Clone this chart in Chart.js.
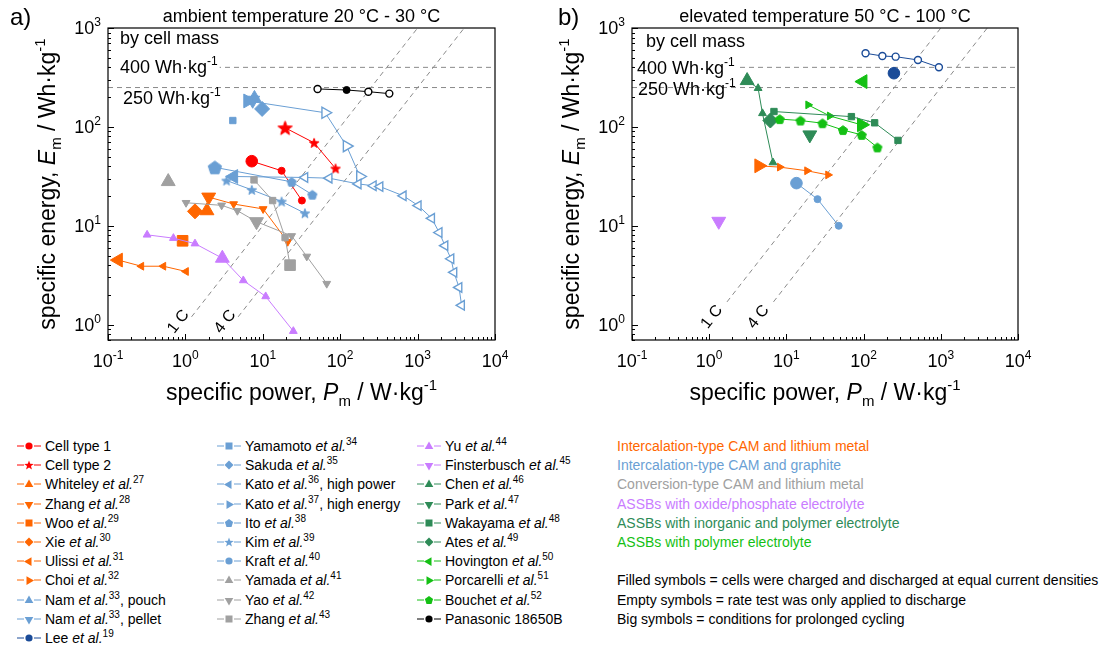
<!DOCTYPE html>
<html>
<head>
<meta charset="utf-8">
<script src="https://cdn.jsdelivr.net/npm/chart.js@4.4.1/dist/chart.umd.min.js"></script>
<style>
  body { margin: 0; width: 1114px; height: 648px; background: #fff; position: relative; overflow: hidden;
         font-family: "Liberation Sans", Arial, sans-serif; }
  canvas { position: absolute; top: 0; }
  #chartA { left: 0; }
  #chartB { left: 530px; }
  .col { position: absolute; top: 437px; font-size: 14px; color: #000; }
  .col div { height: 19.2px; line-height: 19.2px; white-space: nowrap; }
  .col svg { vertical-align: -2px; margin-right: 2px; }
  .col sup { font-size: 10px; position: relative; top: -6px; vertical-align: baseline; line-height: 0; }
</style>
</head>
<body>
<canvas id="chartA" width="530" height="420"></canvas>
<canvas id="chartB" width="530" height="420"></canvas>
<div class="col" id="leg1" style="left:16px"></div>
<div class="col" id="leg2" style="left:216px"></div>
<div class="col" id="leg3" style="left:416px"></div>
<div class="col" id="leg4" style="left:617px"></div>
<script>
// data points are [specific power W/kg, specific energy Wh/kg]

// a) ambient temperature 20-30 °C
const cellType1 = [[7.2, 45], [17.5, 36], [32, 18]];
const cellType2 = [[19.4, 98], [46, 69], [87, 38]];
const whiteley = [[1.9, 14.2]];
const zhang28 = [[2.0, 19.5], [4.2, 16.6], [10.1, 14.8], [21, 6.9]];
const woo = [[0.92, 7.05]];
const xie = [[1.33, 14.0]];
const ulissi = [[0.136, 4.5], [0.27, 3.9], [0.52, 3.9], [1.02, 3.45]];
const namPouch = [[7.8, 194]];
const namPellet = [[7.4, 186]];
const yamamoto = [[4.1, 116]];
const sakuda = [[9.8, 152]];
const katoHP = [[4.2, 31.5], [35, 30.8], [72, 30.3], [171, 26.5], [268, 25.4], [327, 24.9], [653, 20.1],
  [1020, 16], [1520, 11.9], [1900, 8.55], [2260, 6.3], [2700, 4.64], [2950, 3.38], [3430, 2.38], [3700, 1.57]];
const katoHE = [[6.4, 183], [64, 139], [121, 64], [180, 31.5]];
const ito = [[2.4, 39], [23.6, 27.8], [43.7, 20.6]];
const kim = [[3.4, 28.7], [7.2, 23.1], [17.5, 17.6], [35, 13.4]];
const yamada = [[0.6, 28]];
const yao = [[1.02, 17.1], [2.94, 16.1], [4.7, 14.2], [8.3, 11], [23.6, 7.9], [37, 4.9], [67, 2.6]];
const zhang43 = [[7.7, 29.1], [13.4, 18], [19.4, 7.6], [22.5, 4.0]];
const yu = [[0.32, 8.1], [0.7, 7.5], [1.33, 6.6], [3.0, 4.7], [5.6, 2.8], [10.9, 1.93], [24.8, 0.86]];
const panasonic = [[51, 242], [121, 236], [231, 227], [431, 217]];

// b) elevated temperature 50-100 °C
const leeCycling = [[247, 349]];
const leeRate = [[106, 555], [175, 521], [260, 513], [506, 475], [945, 401]];
const hovington = [[98, 287]];
const chen = [[3.1, 294], [4.3, 246], [4.9, 137], [6.7, 43.6]];
const ates = [[6.2, 116]];
const wakayama = [[6.9, 143], [69.5, 127], [139, 110], [279, 73]];
const bouchet = [[8.2, 120], [15.2, 116], [29.3, 109], [54, 93], [94.5, 83], [151, 62]];
const porcarelli = [[19.1, 167], [36.4, 129], [94, 105]];
const park = [[20.1, 83]];
const choi = [[4.4, 40.4], [8.2, 39.2], [18.5, 36], [34.6, 32.7]];
const kraft = [[13.5, 27], [25.3, 18.6], [47.6, 10]];
const finsterbusch = [[1.33, 11.1]];

// axes and guide lines
const powerRange = [0.1, 10000];
const energyRange = [0.7, 1000];
const energyLevels = [400, 250];
const cRates = [1, 4];
const decadesX = [-1, 0, 1, 2, 3, 4];
const decadesY = [0, 1, 2, 3];

const RED = '#ff0000', ORANGE = '#ff6600', BLUE = '#6a9fd4', NAVY = '#1a4b98', GREY = '#a0a0a0',
  VIOLET = '#c97cff', DKGREEN = '#2e8b57', GREEN = '#14c014', BLACK = '#000000';
const FONT = '"Liberation Sans", Arial, sans-serif';

const seriesA = [
  { data: panasonic, color: BLACK, shape: 'circle', open: [0, 2, 3] },
  { data: yu, color: VIOLET, shape: 'up', big: [3] },
  { data: ulissi, color: ORANGE, shape: 'left', big: [0] },
  { data: woo, color: ORANGE, shape: 'square', big: [0] },
  { data: yao, color: GREY, shape: 'down', big: [3] },
  { data: zhang43, color: GREY, shape: 'square', big: [3] },
  { data: yamada, color: GREY, shape: 'up', big: [0] },
  { data: zhang28, color: ORANGE, shape: 'down', big: [0] },
  { data: xie, color: ORANGE, shape: 'diamond', big: [0] },
  { data: whiteley, color: ORANGE, shape: 'up', big: [0] },
  { data: kim, color: BLUE, shape: 'star' },
  { data: ito, color: BLUE, shape: 'pent', big: [0] },
  { data: katoHP, color: BLUE, shape: 'left', big: [0], openFrom: 1, openR: 5.5 },
  { data: katoHE, color: BLUE, shape: 'right', big: [0], openFrom: 1, openR: 6.5 },
  { data: yamamoto, color: BLUE, shape: 'square' },
  { data: sakuda, color: BLUE, shape: 'diamond', big: [0] },
  { data: namPellet, color: BLUE, shape: 'down', big: [0] },
  { data: namPouch, color: BLUE, shape: 'up', big: [0] },
  { data: cellType1, color: RED, shape: 'circle', big: [0] },
  { data: cellType2, color: RED, shape: 'star', big: [0] }
];

const seriesB = [
  { data: leeRate, color: NAVY, shape: 'circle', openFrom: 0, openR: 3.5 },
  { data: leeCycling, color: NAVY, shape: 'circle', big: [0] },
  { data: hovington, color: GREEN, shape: 'left', big: [0] },
  { data: chen, color: DKGREEN, shape: 'up', big: [0] },
  { data: wakayama, color: DKGREEN, shape: 'square' },
  { data: bouchet, color: GREEN, shape: 'pent' },
  { data: porcarelli, color: GREEN, shape: 'right', big: [2] },
  { data: park, color: DKGREEN, shape: 'down', big: [0] },
  { data: ates, color: DKGREEN, shape: 'diamond', big: [0] },
  { data: choi, color: ORANGE, shape: 'right', big: [0] },
  { data: kraft, color: BLUE, shape: 'circle', big: [0] },
  { data: finsterbusch, color: VIOLET, shape: 'down', big: [0] }
];

const legendCols = [
  [['Cell type 1', RED, 'circle'], ['Cell type 2', RED, 'star'],
   ['Whiteley <i>et al.</i><sup>27</sup>', ORANGE, 'up'], ['Zhang <i>et al.</i><sup>28</sup>', ORANGE, 'down'],
   ['Woo <i>et al.</i><sup>29</sup>', ORANGE, 'square'], ['Xie <i>et al.</i><sup>30</sup>', ORANGE, 'diamond'],
   ['Ulissi <i>et al.</i><sup>31</sup>', ORANGE, 'left'], ['Choi <i>et al.</i><sup>32</sup>', ORANGE, 'right'],
   ['Nam <i>et al.</i><sup>33</sup>, pouch', BLUE, 'up'], ['Nam <i>et al.</i><sup>33</sup>, pellet', BLUE, 'down'],
   ['Lee <i>et al.</i><sup>19</sup>', NAVY, 'circle']],
  [['Yamamoto <i>et al.</i><sup>34</sup>', BLUE, 'square'], ['Sakuda <i>et al.</i><sup>35</sup>', BLUE, 'diamond'],
   ['Kato <i>et al.</i><sup>36</sup>, high power', BLUE, 'left'], ['Kato <i>et al.</i><sup>37</sup>, high energy', BLUE, 'right'],
   ['Ito <i>et al.</i><sup>38</sup>', BLUE, 'pent'], ['Kim <i>et al.</i><sup>39</sup>', BLUE, 'star'],
   ['Kraft <i>et al.</i><sup>40</sup>', BLUE, 'circle'], ['Yamada <i>et al.</i><sup>41</sup>', GREY, 'up'],
   ['Yao <i>et al.</i><sup>42</sup>', GREY, 'down'], ['Zhang <i>et al.</i><sup>43</sup>', GREY, 'square']],
  [['Yu <i>et al.</i><sup>44</sup>', VIOLET, 'up'], ['Finsterbusch <i>et al.</i><sup>45</sup>', VIOLET, 'down'],
   ['Chen <i>et al.</i><sup>46</sup>', DKGREEN, 'up'], ['Park <i>et al.</i><sup>47</sup>', DKGREEN, 'down'],
   ['Wakayama <i>et al.</i><sup>48</sup>', DKGREEN, 'square'], ['Ates <i>et al.</i><sup>49</sup>', DKGREEN, 'diamond'],
   ['Hovington <i>et al.</i><sup>50</sup>', GREEN, 'left'], ['Porcarelli <i>et al.</i><sup>51</sup>', GREEN, 'right'],
   ['Bouchet <i>et al.</i><sup>52</sup>', GREEN, 'pent'], ['Panasonic 18650B', BLACK, 'circle']]
];

const categoryNotes = [
  ['Intercalation-type CAM and lithium metal', ORANGE],
  ['Intercalation-type CAM and graphite', BLUE],
  ['Conversion-type CAM and lithium metal', GREY],
  ['ASSBs with oxide/phosphate electrolyte', VIOLET],
  ['ASSBs with inorganic and polymer electrolyte', DKGREEN],
  ['ASSBs with polymer electrolyte', GREEN],
  ['', BLACK],
  ['Filled symbols = cells were charged and discharged at equal current densities', BLACK],
  ['Empty symbols = rate test was only applied to discharge', BLACK],
  ['Big symbols = conditions for prolonged cycling', BLACK]
];

// ---------- markers ----------
const SIZES = { circle: [3.5, 5.8], star: [5, 7.5], up: [4.5, 8], down: [4.5, 8], left: [4.5, 8], right: [4.5, 8],
  square: [4.5, 7.5], diamond: [4.5, 7.5], pent: [4.8, 7] };
const ROT = { up: 0, down: 180, left: 270, right: 90 };

function polyPts(shape, R) {
  const pts = [];
  if (shape === 'star') {
    for (let i = 0; i < 10; i++) {
      const r = i % 2 ? R * 0.42 : R, a = -Math.PI / 2 + i * Math.PI / 5;
      pts.push([r * Math.cos(a), r * Math.sin(a)]);
    }
  } else {
    for (let i = 0; i < 5; i++) {
      const a = -Math.PI / 2 + i * 2 * Math.PI / 5;
      pts.push([R * Math.cos(a), R * Math.sin(a)]);
    }
  }
  return pts;
}

const imgCache = {};
function shapeImage(shape, R, fill, stroke) {
  const key = shape + R + fill + stroke;
  if (imgCache[key]) return imgCache[key];
  const s = Math.ceil(2 * R + 4);
  const c = document.createElement('canvas');
  c.width = c.height = s;
  const g = c.getContext('2d');
  g.translate(s / 2, s / 2 + R * 0.1);
  g.beginPath();
  polyPts(shape, R).forEach(([x, y], i) => i ? g.lineTo(x, y) : g.moveTo(x, y));
  g.closePath();
  g.fillStyle = fill; g.fill();
  g.strokeStyle = stroke; g.lineWidth = 1; g.stroke();
  return (imgCache[key] = c);
}

function toDataset(s) {
  const big = s.big || [];
  const isOpen = i => (s.open || []).includes(i) || (s.openFrom !== undefined && i >= s.openFrom);
  const rad = i => isOpen(i) ? s.openR || SIZES[s.shape][0] : SIZES[s.shape][big.includes(i) ? 1 : 0];
  const fill = i => isOpen(i) ? '#ffffff' : s.color;
  const style = i => {
    if (s.shape === 'star' || s.shape === 'pent') return shapeImage(s.shape, rad(i), fill(i), s.color);
    return { circle: 'circle', square: 'rect', diamond: 'rectRot' }[s.shape] || 'triangle';
  };
  const idx = s.data.map((_, i) => i);
  return {
    data: s.data.map(([x, y]) => ({ x, y })),
    showLine: true,
    borderColor: s.color,
    borderWidth: 1,
    pointStyle: idx.map(style),
    pointRotation: ROT[s.shape] || 0,
    pointRadius: idx.map(rad),
    pointBackgroundColor: idx.map(fill),
    pointBorderColor: s.color,
    pointBorderWidth: idx.map(i => isOpen(i) ? 1.4 : 1),
    order: 0
  };
}

function guideDatasets(cStart) {
  const base = { showLine: true, borderColor: '#8a8a8a', borderWidth: 1, borderDash: [5, 4], pointRadius: 0, order: 10 };
  const out = energyLevels.map(e => Object.assign({ data: powerRange.map(p => ({ x: p, y: e })) }, base));
  cRates.forEach(c => out.push(Object.assign({
    data: [{ x: c * cStart, y: cStart }, { x: c * energyRange[1], y: energyRange[1] }]
  }, base)));
  return out;
}

// ---------- text helpers ----------
function runFont(k, size) {
  const small = k === 'sup' || k === 'sub';
  return (k === 'i' ? 'italic ' : '') + (small ? Math.round(size * 0.64) : size) + 'px ' + FONT;
}
function runsWidth(ctx, runs, size) {
  let w = 0;
  runs.forEach(([t, k]) => { ctx.font = runFont(k, size); w += ctx.measureText(t).width; });
  return w;
}
function drawRuns(ctx, runs, x, y, align, size) {
  const w = runsWidth(ctx, runs, size);
  let cx = align === 'center' ? x - w / 2 : align === 'right' ? x - w : x;
  ctx.textAlign = 'left';
  ctx.textBaseline = 'alphabetic';
  runs.forEach(([t, k]) => {
    ctx.font = runFont(k, size);
    const dy = k === 'sup' ? -size * 0.42 : k === 'sub' ? size * 0.25 : 0;
    ctx.fillText(t, cx, y + dy);
    cx += ctx.measureText(t).width;
  });
  return w;
}

const framePlugin = {
  id: 'frame',
  afterDraw(chart, args, o) {
    const { ctx, chartArea: a } = chart;
    const xs = chart.scales.x, ys = chart.scales.y;
    ctx.save();

    // level labels
    ctx.fillStyle = '#000';
    drawRuns(ctx, [['by cell mass', '']], a.left + o.byX, o.byY, 'left', 18);
    const r400 = [['400 Wh·kg', ''], ['-1', 'sup']];
    const w400 = runsWidth(ctx, r400, 18);
    ctx.fillStyle = '#fff';
    ctx.fillRect(a.left + 2, ys.getPixelForValue(energyLevels[0]) - 4, o.l400X + w400, 8);
    ctx.fillStyle = '#000';
    drawRuns(ctx, r400, a.left + o.l400X, o.l400Y, 'left', 18);
    drawRuns(ctx, [['250 Wh·kg', ''], ['-1', 'sup']], a.left + o.l250X, o.l250Y, 'left', 18);

    // C-rate labels along the guide lines
    cRates.forEach(c => {
      const x1 = xs.getPixelForValue(c * o.cStart), y1 = ys.getPixelForValue(o.cStart);
      const x2 = xs.getPixelForValue(c * energyRange[1]), y2 = ys.getPixelForValue(energyRange[1]);
      ctx.save();
      ctx.translate(x1 + o.cdx, y1 + o.cdy);
      ctx.rotate(Math.atan2(y2 - y1, x2 - x1));
      ctx.font = '16px ' + FONT;
      ctx.textAlign = 'center';
      ctx.textBaseline = 'middle';
      ctx.fillText(c + ' C', 0, 0);
      ctx.restore();
    });

    // frame
    ctx.strokeStyle = '#000';
    ctx.lineWidth = 1.2;
    ctx.strokeRect(a.left, a.top, a.right - a.left, a.bottom - a.top);

    // ticks
    ctx.lineWidth = 1;
    ctx.beginPath();
    decadesX.forEach(d => {
      for (let m = 1; m <= 9; m++) {
        const v = m * Math.pow(10, d);
        if (v < powerRange[0] || v > powerRange[1]) continue;
        const px = Math.round(xs.getPixelForValue(v)) + 0.5;
        ctx.moveTo(px, a.bottom);
        ctx.lineTo(px, a.bottom - (m === 1 ? 6 : 3));
      }
    });
    [-1].concat(decadesY).forEach(d => {
      for (let m = 1; m <= 9; m++) {
        const v = m * Math.pow(10, d);
        if (v < energyRange[0] || v > energyRange[1]) continue;
        const py = Math.round(ys.getPixelForValue(v)) + 0.5;
        ctx.moveTo(a.left, py);
        ctx.lineTo(a.left + (m === 1 ? 6 : 3), py);
      }
    });
    ctx.stroke();

    // tick labels
    ctx.fillStyle = '#000';
    decadesX.forEach(d => {
      drawRuns(ctx, [['10', ''], [String(d), 'sup']], xs.getPixelForValue(Math.pow(10, d)), a.bottom + 27, 'center', 18);
    });
    decadesY.forEach(d => {
      drawRuns(ctx, [['10', ''], [String(d), 'sup']], a.left - 7, ys.getPixelForValue(Math.pow(10, d)) + 6, 'right', 18);
    });

    // axis titles
    drawRuns(ctx, [['specific power, ', ''], ['P', 'i'], ['m', 'sub'], [' / W·kg', ''], ['-1', 'sup']],
      (a.left + a.right) / 2, a.bottom + 60, 'center', 23);
    ctx.save();
    ctx.translate(a.left - 53, (a.top + a.bottom) / 2);
    ctx.rotate(-Math.PI / 2);
    drawRuns(ctx, [['specific energy, ', ''], ['E', 'i'], ['m', 'sub'], [' / Wh·kg', ''], ['-1', 'sup']], 0, 0, 'center', 23);
    ctx.restore();

    // panel title and letter
    drawRuns(ctx, [[o.title, '']], (a.left + a.right) / 2, 22, 'center', 18);
    drawRuns(ctx, [[o.letter, '']], o.letterX, 25, 'left', 24);
    ctx.restore();
  }
};

function makeChart(id, series, o) {
  return new Chart(document.getElementById(id), {
    type: 'scatter',
    data: { datasets: guideDatasets(o.cStart).concat(series.map(toDataset)) },
    options: {
      responsive: false,
      animation: false,
      events: [],
      layout: { padding: o.pad },
      scales: {
        x: { type: 'logarithmic', min: powerRange[0], max: powerRange[1], display: false },
        y: { type: 'logarithmic', min: energyRange[0], max: energyRange[1], display: false }
      },
      plugins: { legend: { display: false }, tooltip: { enabled: false }, frame: o }
    },
    plugins: [framePlugin]
  });
}

makeChart('chartA', seriesA, {
  pad: { left: 108, top: 28, right: 35, bottom: 80 },
  title: 'ambient temperature 20 °C - 30 °C', letter: 'a)', letterX: 10,
  byX: 12, byY: 44, l400X: 12, l400Y: 73, l250X: 15, l250Y: 104,
  cStart: 1.2, cdx: -13, cdy: 5
});
makeChart('chartB', seriesB, {
  pad: { left: 102, top: 28, right: 42, bottom: 80 },
  title: 'elevated temperature 50 °C - 100 °C', letter: 'b)', letterX: 28,
  byX: 14, byY: 47, l400X: 5, l400Y: 74, l250X: 6, l250Y: 95,
  cStart: 1.7, cdx: -15, cdy: 15
});

// ---------- legend ----------
function legendSvg(shape, color) {
  const cx = 13, cy = 7;
  let mk = '';
  const poly = pts => `<polygon points="${pts.map(p => p.map(v => v.toFixed(1)).join(',')).join(' ')}" fill="${color}"/>`;
  if (shape === 'circle') mk = `<circle cx="${cx}" cy="${cy}" r="3.6" fill="${color}"/>`;
  else if (shape === 'square') mk = `<rect x="${cx - 3.5}" y="${cy - 3.5}" width="7" height="7" fill="${color}"/>`;
  else if (shape === 'diamond') mk = poly([[cx, cy - 4.5], [cx + 4.5, cy], [cx, cy + 4.5], [cx - 4.5, cy]]);
  else if (shape === 'star' || shape === 'pent') mk = poly(polyPts(shape, shape === 'star' ? 5 : 4.3).map(([x, y]) => [cx + x, cy + y + 0.4]));
  else {
    const rot = ROT[shape] * Math.PI / 180, r = 5;
    mk = poly([0, 1, 2].map(k => [cx + Math.sin(rot + k * 2 * Math.PI / 3) * r, cy + 0.6 - Math.cos(rot + k * 2 * Math.PI / 3) * r]));
  }
  return `<svg width="27" height="14"><line x1="1" y1="${cy}" x2="8" y2="${cy}" stroke="${color}"/>` +
    `<line x1="18" y1="${cy}" x2="25" y2="${cy}" stroke="${color}"/>${mk}</svg>`;
}

legendCols.forEach((col, k) => {
  document.getElementById('leg' + (k + 1)).innerHTML =
    col.map(([label, color, shape]) => `<div>${legendSvg(shape, color)}${label}</div>`).join('');
});
document.getElementById('leg4').innerHTML =
  categoryNotes.map(([t, c]) => `<div style="color:${c}">${t || '&nbsp;'}</div>`).join('');
</script>
</body>
</html>
